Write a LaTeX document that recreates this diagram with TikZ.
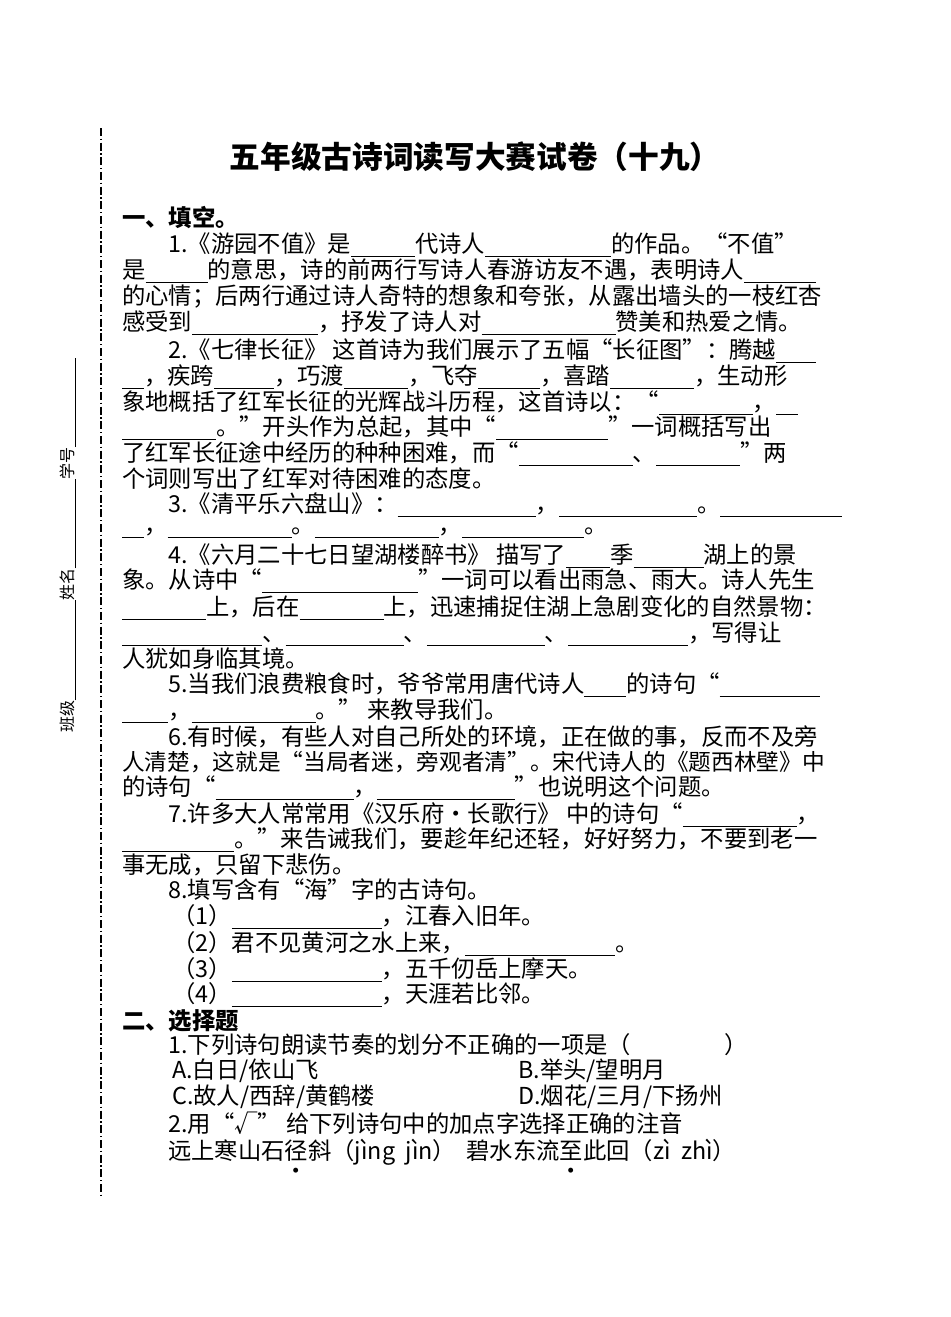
\documentclass[tikz,border=0pt]{standalone}
\usepackage{fontspec}
\setmainfont{Noto Sans CJK SC}
\newcommand{\bl}[1]{\rule[-3pt]{#1\dimexpr0.75pt\relax}{0.6pt}}
\newcommand{\ud}[1]{#1\llap{\makebox[1em]{\raisebox{-0.85em}{\textbullet}}}}
\begin{document}
\begin{tikzpicture}[x=0.75pt,y=-0.75pt,
  tl/.style={anchor=west,inner sep=0pt,font=\fontsize{17.5}{18}\selectfont}]
\useasboundingbox (0,0) rectangle (950,1317);
\fill[white] (0,0) rectangle (950,1317);
\node[font=\fontsize{23}{24}\selectfont\bfseries,inner sep=0pt] (title) at (475,157) {五年级古诗词读写大赛试卷（十九）};
\coordinate (dt) at (101,128); \coordinate (db) at (101,1195);
\draw[dash pattern=on 6pt off 2pt on 1pt off 2pt,line width=0.8pt] (dt) -- (db);
\node[rotate=90,inner sep=0pt,font=\fontsize{12}{12}\selectfont] (side) at (68,545) {班级\rule[-2pt]{75pt}{0.5pt}姓名\rule[-2pt]{67pt}{0.5pt}学号\rule[-2pt]{67pt}{0.5pt}};
\node[tl,font=\fontsize{17.5}{18}\selectfont\bfseries] (s1) at (122,218) {一、填空。};
\node[tl] (l1) at (168,245) {1.《游园不值》是\bl{64}代诗人\bl{126}的作品。“不值”};
\node[tl] (l2) at (122,271) {是\bl{62}的意思，诗的前两行写诗人春游访友不遇，表明诗人\bl{72}};
\node[tl] (l3) at (122,297) {的心情；后两行通过诗人奇特的想象和夸张，从露出墙头的一枝红杏};
\node[tl] (l4) at (122,323) {感受到\bl{126}，抒发了诗人对\bl{134}赞美和热爱之情。};
\node[tl] (l5) at (168,351) {2.《七律长征》 这首诗为我们展示了五幅“长征图”：腾越\bl{40}};
\node[tl] (l6) at (122,377) {\bl{22}，疾跨\bl{60}，巧渡\bl{64}，飞夺\bl{62}，喜踏\bl{84}，生动形};
\node[tl] (l7) at (122,403) {象地概括了红军长征的光辉战斗历程，这首诗以：“\bl{94}，\bl{22}};
\node[tl] (l8) at (122,428) {\bl{94}。”开头作为总起，其中“\bl{112}”一词概括写出};
\node[tl] (l9) at (122,454) {了红军长征途中经历的种种困难，而“\bl{114}、\bl{84}”两};
\node[tl] (l10) at (122,479) {个词则写出了红军对待困难的态度。};
\node[tl] (l11) at (168,505) {3.《清平乐六盘山》：\bl{138}，\bl{138}。\bl{122}};
\node[tl] (l12) at (122,533) {\bl{22}，\bl{124}。\bl{124}，\bl{122}。};
\node[tl] (l13) at (168,556) {4.《六月二十七日望湖楼醉书》 描写了\bl{44}季\bl{70}湖上的景};
\node[tl] (l14) at (122,581) {象。从诗中“\bl{156}”一词可以看出雨急、雨大。诗人先生};
\node[tl] (l15) at (122,608) {\bl{84}上，后在\bl{84}上，迅速捕捉住湖上急剧变化的自然景物：};
\node[tl] (l16) at (122,634) {\bl{140}、\bl{118}、\bl{118}、\bl{120}，写得让};
\node[tl] (l17) at (122,659) {人犹如身临其境。};
\node[tl] (l18) at (168,685) {5.当我们浪费粮食时，爷爷常用唐代诗人\bl{42}的诗句“\bl{100}};
\node[tl] (l19) at (122,711) {\bl{46}，\bl{124}。” 来教导我们。};
\node[tl] (l20) at (168,737) {6.有时候，有些人对自己所处的环境，正在做的事，反而不及旁};
\node[tl,font=\fontsize{17}{18}\selectfont] (l21) at (122,762) {人清楚，这就是“当局者迷，旁观者清”。宋代诗人的《题西林壁》中};
\node[tl] (l22) at (122,788) {的诗句“\bl{138}，\bl{138}”也说明这个问题。};
\node[tl] (l23) at (168,815) {7.许多大人常常用《汉乐府·长歌行》 中的诗句“\bl{114}，};
\node[tl] (l24) at (122,840) {\bl{112}。”来告诫我们，要趁年纪还轻，好好努力，不要到老一};
\node[tl] (l25) at (122,865) {事无成，只留下悲伤。};
\node[tl] (l26) at (168,890) {8.填写含有“海”字的古诗句。};
\node[tl] (l27) at (172,917) {（1）\bl{150}，江春入旧年。};
\node[tl] (l28) at (172,944) {（2）君不见黄河之水上来，\bl{150}。};
\node[tl] (l29) at (172,970) {（3）\bl{150}，五千仞岳上摩天。};
\node[tl] (l30) at (172,995) {（4）\bl{150}，天涯若比邻。};
\node[tl,font=\fontsize{17.5}{18}\selectfont\bfseries] (s2) at (122,1021) {二、选择题};
\node[tl] (q1) at (168,1045) {1.下列诗句朗读节奏的划分不正确的一项是（\hspace{4em}）};
\node[tl] (qa) at (172,1071) {A.白日/依山飞};
\node[tl] (qb) at (518,1071) {B.举头/望明月};
\node[tl] (qc) at (172,1097) {C.故人/西辞/黄鹤楼};
\node[tl] (qd) at (518,1097) {D.烟花/三月/下扬州};
\node[tl] (q2) at (168,1123) {2.用“√” 给下列诗句中的加点字选择正确的注音};
\node[tl] (q3) at (168,1159) {远上寒山石\ud{径}斜（jìng\ \ jìn）\ \ 碧水东流\ud{至}此回（zì\ \ zhì）};
\end{tikzpicture}
\end{document}
